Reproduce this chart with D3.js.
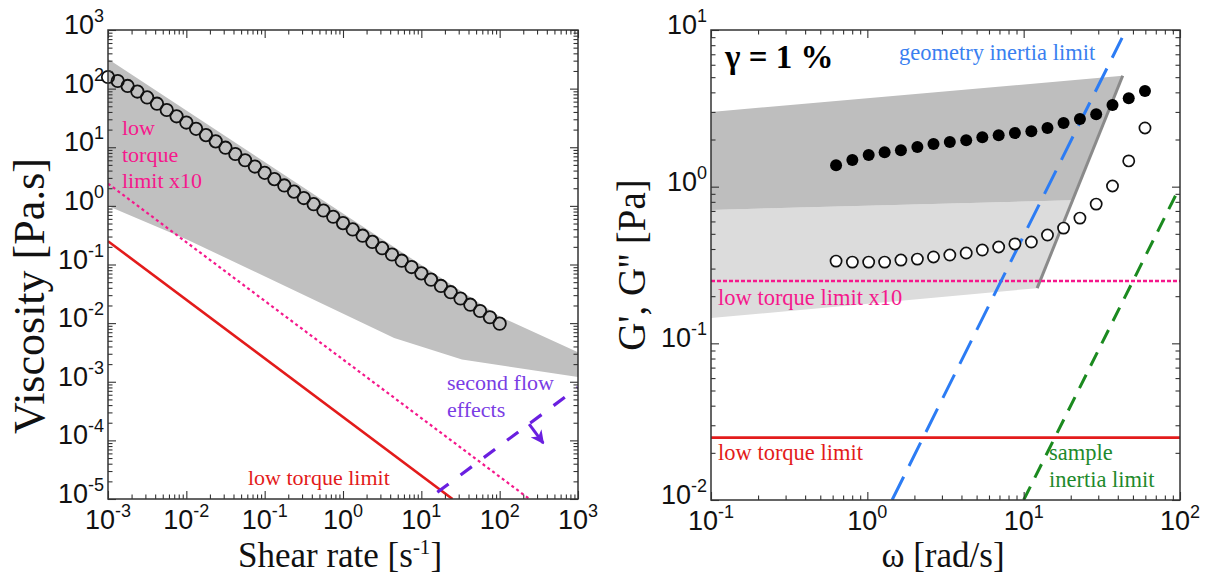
<!DOCTYPE html>
<html>
<head>
<meta charset="utf-8">
<script src="https://cdn.jsdelivr.net/npm/d3@7"></script>
<style>
body { margin: 0; background: #fff; }
</style>
</head>
<body>
<div class="container"></div>
<script>
var width = 1205;
var height = 577;

// ---- left panel: steady shear viscosity ----
var shearRate = [0.001, 0.00133, 0.00178, 0.00237, 0.00316, 0.00422, 0.00562, 0.0075,
  0.01, 0.0133, 0.0178, 0.0237, 0.0316, 0.0422, 0.0562, 0.075,
  0.1, 0.133, 0.178, 0.237, 0.316, 0.422, 0.562, 0.75,
  1, 1.33, 1.78, 2.37, 3.16, 4.22, 5.62, 7.5,
  10, 13.3, 17.8, 23.7, 31.6, 42.2, 56.2, 75, 100];
var viscosity = [158, 135, 111, 89.1, 70.8, 55.3, 43.2, 33.7,
  26.4, 20.6, 16.1, 12.6, 9.83, 7.67, 6.00, 4.69,
  3.66, 2.86, 2.23, 1.75, 1.36, 1.07, 0.834, 0.652,
  0.508, 0.397, 0.310, 0.243, 0.190, 0.148, 0.116, 0.0904,
  0.0706, 0.0552, 0.0431, 0.0337, 0.0263, 0.0206, 0.0161, 0.0126, 0.0098];
var bandUpper = [[0.001, 320], [100, 0.013], [1000, 0.0032]];
var bandLower = [[0.001, 1.0], [0.01, 0.27], [4.5, 0.0056], [33, 0.0024], [1000, 0.0012]];
var lowTorqueLeft = [[0.001, 0.25], [25, 1e-5]];
var lowTorque10Left = [[0.001, 2.4], [240, 1e-5]];
var secondFlow = [[16, 1.3e-5], [1000, 8e-4]];
var secondFlowArrow = [[238, 1.9e-4], [360, 9e-5]];

// ---- right panel: oscillatory sweep, gamma = 1 % ----
var omega = [0.631, 0.802, 1.02, 1.29, 1.64, 2.09, 2.65, 3.37, 4.29, 5.44,
  6.92, 8.79, 11.2, 14.2, 18.0, 22.9, 29.1, 37.0, 47.0, 59.7];
var gPrime = [1.37, 1.48, 1.59, 1.66, 1.71, 1.79, 1.87, 1.93, 1.98, 2.07,
  2.13, 2.20, 2.26, 2.37, 2.55, 2.70, 2.90, 3.32, 3.67, 4.08];
var gDoublePrime = [0.335, 0.330, 0.330, 0.330, 0.340, 0.345, 0.356, 0.366, 0.377, 0.394,
  0.412, 0.431, 0.443, 0.491, 0.544, 0.630, 0.774, 1.01, 1.46, 2.37];
var darkBand = [[0.1, 3.0], [43, 5.1], [20.5, 0.82], [0.1, 0.71]];
var lightBand = [[0.1, 0.71], [20.5, 0.82], [12.2, 0.225], [0.1, 0.145]];
var bandEdge = [[43, 5.1], [12.2, 0.225]];
var lowTorqueRight = [[0.1, 0.025], [100, 0.025]];
var lowTorque10Right = [[0.1, 0.25], [100, 0.25]];
var geometryInertia = [[1.44, 0.01], [42.6, 8.9]];
var sampleInertia = [[10, 0.01], [100, 1.0]];

// decade exponents used for the tick labels
var xExpLeft = [-3, -2, -1, 0, 1, 2, 3];
var yExpLeft = [-5, -4, -3, -2, -1, 0, 1, 2, 3];
var xExpRight = [-1, 0, 1, 2];
var yExpRight = [-2, -1, 0, 1];

var left = {x0: 108, x1: 578, y0: 30, y1: 499};
var right = {x0: 711, x1: 1180, y0: 30, y1: 500};

var colors = {
  red: "#e31b1b",
  pink: "#f5188c",
  purple: "#6a1fe0",
  purpleText: "#7a3de4",
  blue: "#2c7cf4",
  blueText: "#3a7ff0",
  green: "#1b8a1f",
  greenText: "#1e8a2c"
};

var svg = d3.select(".container").append("svg")
  .attr("width", width)
  .attr("height", height)
  .style("font-family", "'Liberation Serif', 'Times New Roman', serif");

var defs = svg.append("defs");
[["clipL", left], ["clipR", right]].forEach(function (c) {
  defs.append("clipPath").attr("id", c[0])
    .append("rect")
    .attr("x", c[1].x0).attr("y", c[1].y0)
    .attr("width", c[1].x1 - c[1].x0).attr("height", c[1].y1 - c[1].y0);
});
defs.append("marker")
  .attr("id", "arrowHead")
  .attr("viewBox", "0 0 10 10")
  .attr("refX", 9).attr("refY", 5)
  .attr("markerWidth", 4.5).attr("markerHeight", 4.5)
  .attr("orient", "auto")
  .append("path")
  .attr("d", "M0,0 L10,5 L0,10 L3,5 Z")
  .style("fill", colors.purple);

var xLeft = d3.scaleLog().domain([1e-3, 1e3]).range([left.x0, left.x1]);
var yLeft = d3.scaleLog().domain([1e-5, 1e3]).range([left.y1, left.y0]);
var xRight = d3.scaleLog().domain([0.1, 100]).range([right.x0, right.x1]);
var yRight = d3.scaleLog().domain([0.01, 10]).range([right.y1, right.y0]);

function lineFor(x, y) {
  return d3.line().x(function (d) { return x(d[0]); }).y(function (d) { return y(d[1]); });
}

renderLeft();
renderRight();
renderFrame(left, xLeft, yLeft, xExpLeft, yExpLeft);
renderFrame(right, xRight, yRight, xExpRight, yExpRight);
renderTitles();

function renderLeft() {
  var g = svg.append("g").attr("clip-path", "url(#clipL)");
  var line = lineFor(xLeft, yLeft);

  // grey measurable window
  var band = bandUpper.concat(bandLower.slice().reverse());
  g.append("path")
    .attr("d", line(band) + "Z")
    .style("fill", "#c0c0c0");

  g.append("path").attr("d", line(lowTorqueLeft))
    .style("fill", "none").style("stroke", colors.red).style("stroke-width", 2.6);
  g.append("path").attr("d", line(lowTorque10Left))
    .style("fill", "none").style("stroke", colors.pink).style("stroke-width", 2.2)
    .style("stroke-dasharray", "3,3");
  g.append("path").attr("d", line(secondFlow))
    .style("fill", "none").style("stroke", colors.purple).style("stroke-width", 3.2)
    .style("stroke-dasharray", "14,15");
  g.append("path").attr("d", line(secondFlowArrow))
    .style("fill", "none").style("stroke", colors.purple).style("stroke-width", 3)
    .attr("marker-end", "url(#arrowHead)");

  var pts = shearRate.map(function (s, i) { return [s, viscosity[i]]; });
  svg.append("g").selectAll("circle")
    .data(pts)
    .enter().append("circle")
    .attr("cx", function (d) { return xLeft(d[0]); })
    .attr("cy", function (d) { return yLeft(d[1]); })
    .attr("r", 6.2)
    .style("fill", "none")
    .style("stroke", "#111")
    .style("stroke-width", 1.8);

  var ann = svg.append("g").style("font-size", "22px");
  ["low", "torque", "limit x10"].forEach(function (t, i) {
    ann.append("text").attr("x", 122).attr("y", 135 + i * 26.5)
      .style("fill", colors.pink).text(t);
  });
  ann.append("text").attr("x", 248).attr("y", 485)
    .style("fill", colors.red).text("low torque limit");
  ann.append("text").attr("x", 447).attr("y", 390)
    .style("fill", colors.purpleText).text("second flow");
  ann.append("text").attr("x", 447).attr("y", 417)
    .style("fill", colors.purpleText).text("effects");
}

function renderRight() {
  var g = svg.append("g").attr("clip-path", "url(#clipR)");
  var line = lineFor(xRight, yRight);

  g.append("path").attr("d", line(lightBand) + "Z").style("fill", "#dcdcdc");
  g.append("path").attr("d", line(darkBand) + "Z").style("fill", "#bebebe");
  g.append("path").attr("d", line(bandEdge))
    .style("fill", "none").style("stroke", "#8a8a8a").style("stroke-width", 3);

  g.append("path").attr("d", line(lowTorque10Right))
    .style("fill", "none").style("stroke", colors.pink).style("stroke-width", 2.4)
    .style("stroke-dasharray", "4,2");
  g.append("path").attr("d", line(lowTorqueRight))
    .style("fill", "none").style("stroke", colors.red).style("stroke-width", 2.6);
  g.append("path").attr("d", line(geometryInertia))
    .style("fill", "none").style("stroke", colors.blue).style("stroke-width", 3)
    .style("stroke-dasharray", "26,12");
  g.append("path").attr("d", line(sampleInertia))
    .style("fill", "none").style("stroke", colors.green).style("stroke-width", 3)
    .style("stroke-dasharray", "15,10");

  var storage = omega.map(function (w, i) { return [w, gPrime[i]]; });
  var loss = omega.map(function (w, i) { return [w, gDoublePrime[i]]; });

  svg.append("g").selectAll("circle")
    .data(loss)
    .enter().append("circle")
    .attr("cx", function (d) { return xRight(d[0]); })
    .attr("cy", function (d) { return yRight(d[1]); })
    .attr("r", 5.6)
    .style("fill", "#fff")
    .style("stroke", "#111")
    .style("stroke-width", 1.7);

  svg.append("g").selectAll("circle")
    .data(storage)
    .enter().append("circle")
    .attr("cx", function (d) { return xRight(d[0]); })
    .attr("cy", function (d) { return yRight(d[1]); })
    .attr("r", 6)
    .style("fill", "#000");

  var ann = svg.append("g").style("font-size", "22.5px");
  ann.append("text").attr("x", 725).attr("y", 68)
    .style("font-family", "'Liberation Serif', 'DejaVu Serif', serif")
    .style("font-size", "33px").style("font-weight", "bold")
    .text("\u03b3 = 1 %");
  ann.append("text").attr("x", 899).attr("y", 60)
    .style("fill", colors.blueText).text("geometry inertia limit");
  ann.append("text").attr("x", 718).attr("y", 305)
    .style("fill", colors.pink).text("low torque limit x10");
  ann.append("text").attr("x", 718).attr("y", 460)
    .style("fill", colors.red).text("low torque limit");
  ann.append("text").attr("x", 1049).attr("y", 460)
    .style("fill", colors.greenText).text("sample");
  ann.append("text").attr("x", 1049).attr("y", 487)
    .style("fill", colors.greenText).text("inertia limit");
}

function isDecade(v) {
  var l = Math.log10(v);
  return Math.abs(l - Math.round(l)) < 1e-6;
}

function renderFrame(p, x, y, xExps, yExps) {
  var g = svg.append("g").style("color", "#333");
  var xMajor = x.ticks().filter(isDecade), xMinor = x.ticks().filter(function (v) { return !isDecade(v); });
  var yMajor = y.ticks().filter(isDecade), yMinor = y.ticks().filter(function (v) { return !isDecade(v); });

  // ticks point inward on all four sides
  var sides = [
    [d3.axisBottom(x), "translate(0," + p.y1 + ")", xMajor, xMinor],
    [d3.axisTop(x), "translate(0," + p.y0 + ")", xMajor, xMinor],
    [d3.axisLeft(y), "translate(" + p.x0 + ",0)", yMajor, yMinor],
    [d3.axisRight(y), "translate(" + p.x1 + ",0)", yMajor, yMinor]
  ];
  sides.forEach(function (s) {
    var ax = g.append("g").attr("transform", s[1])
      .call(s[0].tickValues(s[2]).tickSize(-8).tickFormat(""));
    ax.select(".domain").remove();
    var ax2 = g.append("g").attr("transform", s[1])
      .call(s[0].tickValues(s[3]).tickSize(-4.5).tickFormat(""));
    ax2.select(".domain").remove();
  });
  g.selectAll(".tick line").style("stroke-width", 1.1);

  g.append("rect")
    .attr("x", p.x0).attr("y", p.y0)
    .attr("width", p.x1 - p.x0).attr("height", p.y1 - p.y0)
    .style("fill", "none").style("stroke", "#333").style("stroke-width", 1.5);

  var lab = svg.append("g")
    .style("font-family", "'Liberation Sans', Arial, sans-serif")
    .style("font-size", "27px")
    .style("fill", "#111");
  xExps.forEach(function (e) {
    var t = lab.append("text")
      .attr("x", x(Math.pow(10, e)))
      .attr("y", p.y1 + 30)
      .style("text-anchor", "middle")
      .text("10");
    t.append("tspan").attr("dy", -12).style("font-size", "18px").text(e);
  });
  yExps.forEach(function (e) {
    var t = lab.append("text")
      .attr("x", p.x0 - 4)
      .attr("y", y(Math.pow(10, e)) + 4)
      .style("text-anchor", "end")
      .text("10");
    t.append("tspan").attr("dy", -12).style("font-size", "18px").text(e);
  });
}

function renderTitles() {
  var t = svg.append("g").style("fill", "#111");

  var sx = t.append("text")
    .attr("x", 340).attr("y", 567)
    .style("text-anchor", "middle")
    .style("font-size", "35px")
    .text("Shear rate [s");
  sx.append("tspan").attr("dy", -13).style("font-size", "21px").text("-1");
  sx.append("tspan").attr("dy", 13).text("]");

  t.append("text")
    .attr("transform", "translate(44,296) rotate(-90)")
    .style("text-anchor", "middle")
    .style("font-size", "44px")
    .text("Viscosity [Pa.s]");

  t.append("text")
    .attr("x", 943).attr("y", 567)
    .style("text-anchor", "middle")
    .style("font-size", "35px")
    .text("\u03c9 [rad/s]");

  t.append("text")
    .attr("transform", "translate(645,265) rotate(-90)")
    .style("text-anchor", "middle")
    .style("font-size", "39px")
    .text("G', G'' [Pa]");
}
</script>
</body>
</html>
